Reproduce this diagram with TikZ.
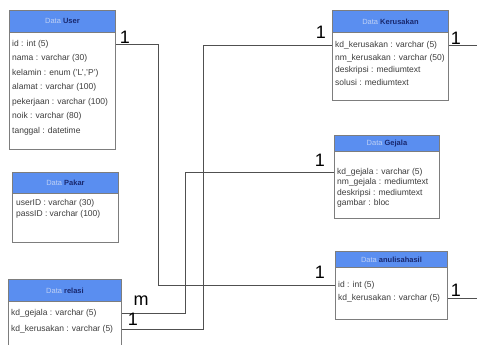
\documentclass[tikz,border=0pt]{standalone}
\usepackage{fontspec}
\setmainfont{Liberation Sans}
\definecolor{hdrblue}{RGB}{90,142,240}
\definecolor{boxgray}{RGB}{125,125,125}
\definecolor{datacol}{RGB}{190,208,245}
\definecolor{namecol}{RGB}{25,40,110}
\definecolor{rowcol}{RGB}{60,60,60}
\definecolor{conncol}{RGB}{80,80,80}
\newcommand{\erbox}[7]{%
  \node[boxbody, minimum width=#4pt, minimum height=#5pt] (#1) at (#2,#3) {};
  \node[boxhdr, minimum width=#4pt, minimum height=#6pt] (#1h) at (#2,#3)
     {\textcolor{datacol}{Data} \textcolor{namecol}{\bfseries #7}};
}
\begin{document}
\begin{tikzpicture}[x=1pt,y=-1pt,
  boxbody/.style={draw=boxgray, fill=white, line width=0.9pt, anchor=north west, inner sep=0pt},
  boxhdr/.style={draw=boxgray, fill=hdrblue, line width=0.9pt, anchor=north west, inner sep=0pt,
     font=\fontsize{7.5}{9}\selectfont},
  row/.style={anchor=west, inner sep=0pt, text=rowcol, font=\fontsize{8.5}{10}\selectfont},
  conn/.style={draw=conncol, line width=0.9pt},
  card/.style={inner sep=0pt, font=\fontsize{18}{18}\selectfont, text=black}]
\useasboundingbox (0,0) rectangle (477,345);
% boxes
\erbox{user}{9}{10}{106}{139}{22}{User}
\erbox{pak}{12}{172}{106}{70}{21}{Pakar}
\erbox{rel}{8}{279}{113}{80}{22}{relasi}
\erbox{ker}{332}{10}{116}{90}{22}{Kerusakan}
\erbox{gej}{334}{135}{105}{83}{16}{Gejala}
\erbox{ana}{335}{251}{112}{68}{16}{anulisahasil}
% rows
\node[row] (u1) at (12,44) {id : int (5)};
\node[row] (u2) at (12,58.5) {nama : varchar (30)};
\node[row] (u3) at (12,73) {kelamin : enum ('L','P')};
\node[row] (u4) at (12,87.5) {alamat : varchar (100)};
\node[row] (u5) at (12,102) {pekerjaan : varchar (100)};
\node[row] (u6) at (12,116.5) {noik : varchar (80)};
\node[row] (u7) at (12,131) {tanggal : datetime};
\node[row] (p1) at (16,203) {userID : varchar (30)};
\node[row] (p2) at (16,214) {passID : varchar (100)};
\node[row] (r1) at (11,313) {kd\_gejala : varchar (5)};
\node[row] (r2) at (11,329) {kd\_kerusakan : varchar (5)};
\node[row] (k1) at (335,45) {kd\_kerusakan : varchar (5)};
\node[row] (k2) at (335,58) {nm\_kerusakan : varchar (50)};
\node[row] (k3) at (335,70) {deskripsi : mediumtext};
\node[row] (k4) at (335,82) {solusi : mediumtext};
\node[row] (g1) at (337,172) {kd\_gejala : varchar (5)};
\node[row] (g2) at (337,182.5) {nm\_gejala : mediumtext};
\node[row] (g3) at (337,193) {deskripsi : mediumtext};
\node[row] (g4) at (337,203.5) {gambar : bloc};
\node[row] (a1) at (338,285) {id : int (5)};
\node[row] (a2) at (338,298) {kd\_kerusakan : varchar (5)};
% free ends
\coordinate (e1) at (477,45);
\coordinate (e2) at (477,298);
% connectors
\draw[conn] (user.east |- u1) -- ++(43,0) |- (ana.west |- a1);
\draw[conn] (rel.east |- r1) -- ++(64,0) |- (gej.west |- g1);
\draw[conn] (rel.east |- r2) -- ++(82,0) |- (ker.west |- k1);
\draw[conn] (ker.east |- k1) -- (e1);
\draw[conn] (ana.east |- a2) -- (e2);
% cardinalities
\node[card] (c1) at (125,37) {1};
\node[card] (c2) at (321,32) {1};
\node[card] (c3) at (320,160) {1};
\node[card] (c4) at (320,272) {1};
\node[card] (c5) at (456,38) {1};
\node[card] (c6) at (456,290) {1};
\node[card] (c7) at (141,301) {m};
\node[card] (c8) at (133,319) {1};
\end{tikzpicture}
\end{document}
